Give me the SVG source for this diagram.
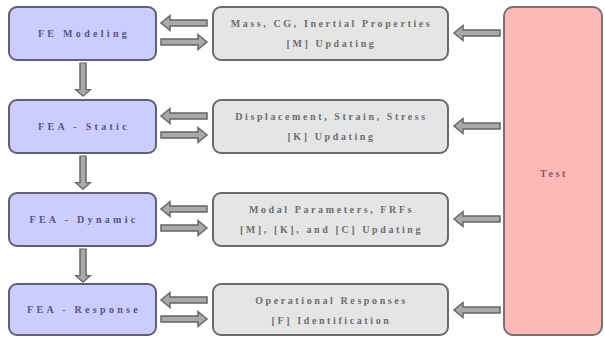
<svg xmlns="http://www.w3.org/2000/svg" xmlns:xlink="http://www.w3.org/1999/xlink" width="605" height="339" viewBox="0 0 605 339">
<style>
.fea{fill:#ccccff;stroke:#5f5f73;stroke-width:2}
.mid{fill:#e5e5e5;stroke:#6a6a6a;stroke-width:2}
.test{fill:#ffb8b8;stroke:#7a7070;stroke-width:2}
text{font-family:"Liberation Serif","DejaVu Serif",serif;font-size:10px;font-weight:bold;text-anchor:middle;letter-spacing:2.6px}
.tf{fill:#55558a;letter-spacing:3.3px}
.tm{fill:#6e6e6e}
.tt{fill:#8a5a5a}
.arr{fill:#a9a9a9;stroke:#666;stroke-width:1.5;stroke-linejoin:miter}
</style>
<defs>
<path id="ar" class="arr" d="M0,-3 H37 V-7.5 L46,0 L37,7.5 V3 H0 Z"/>
</defs>
<g id="connectors">
<use xlink:href="#ar" transform="translate(207,23) scale(-1,1)"/>
<use xlink:href="#ar" transform="translate(161,42)"/>
<use xlink:href="#ar" transform="translate(207,116) scale(-1,1)"/>
<use xlink:href="#ar" transform="translate(161,135)"/>
<use xlink:href="#ar" transform="translate(207,209) scale(-1,1)"/>
<use xlink:href="#ar" transform="translate(161,228)"/>
<use xlink:href="#ar" transform="translate(207,300) scale(-1,1)"/>
<use xlink:href="#ar" transform="translate(161,319)"/>
<use xlink:href="#ar" transform="translate(500,33) scale(-1,1)"/>
<use xlink:href="#ar" transform="translate(500,126) scale(-1,1)"/>
<use xlink:href="#ar" transform="translate(500,219) scale(-1,1)"/>
<use xlink:href="#ar" transform="translate(500,310) scale(-1,1)"/>
<use xlink:href="#ar" transform="translate(83,63) rotate(90) scale(0.72,1)"/>
<use xlink:href="#ar" transform="translate(83,156) rotate(90) scale(0.72,1)"/>
<use xlink:href="#ar" transform="translate(83,249) rotate(90) scale(0.72,1)"/>
</g>
<g id="fe-modeling"><rect class="fea" x="9" y="7" width="147" height="53" rx="8"/><text class="tf" x="84" y="37">FE Modeling</text></g>
<g id="fea-static"><rect class="fea" x="9" y="100" width="147" height="53" rx="8"/><text class="tf" x="84" y="130">FEA - Static</text></g>
<g id="fea-dynamic"><rect class="fea" x="9" y="193" width="147" height="53" rx="8"/><text class="tf" x="84" y="223">FEA - Dynamic</text></g>
<g id="fea-response"><rect class="fea" x="9" y="284" width="147" height="51" rx="8"/><text class="tf" x="84" y="313">FEA - Response</text></g>
<g id="mass"><rect class="mid" x="213" y="7" width="235" height="53" rx="8"/><text class="tm" x="331.5" y="27">Mass, CG, Inertial Properties</text><text class="tm" x="331.5" y="47">[M] Updating</text></g>
<g id="displacement"><rect class="mid" x="213" y="100" width="235" height="53" rx="8"/><text class="tm" x="331.5" y="120">Displacement, Strain, Stress</text><text class="tm" x="331.5" y="140">[K] Updating</text></g>
<g id="modal"><rect class="mid" x="213" y="193" width="235" height="53" rx="8"/><text class="tm" x="331.5" y="213">Modal Parameters, FRFs</text><text class="tm" x="331.5" y="233">[M], [K], and [C] Updating</text></g>
<g id="operational"><rect class="mid" x="213" y="284" width="235" height="51" rx="8"/><text class="tm" x="331.5" y="304">Operational Responses</text><text class="tm" x="331.5" y="324">[F] Identification</text></g>
<g id="test"><rect class="test" x="504" y="7" width="98" height="328" rx="9"/><text class="tt" x="554" y="177">Test</text></g>
</svg>
